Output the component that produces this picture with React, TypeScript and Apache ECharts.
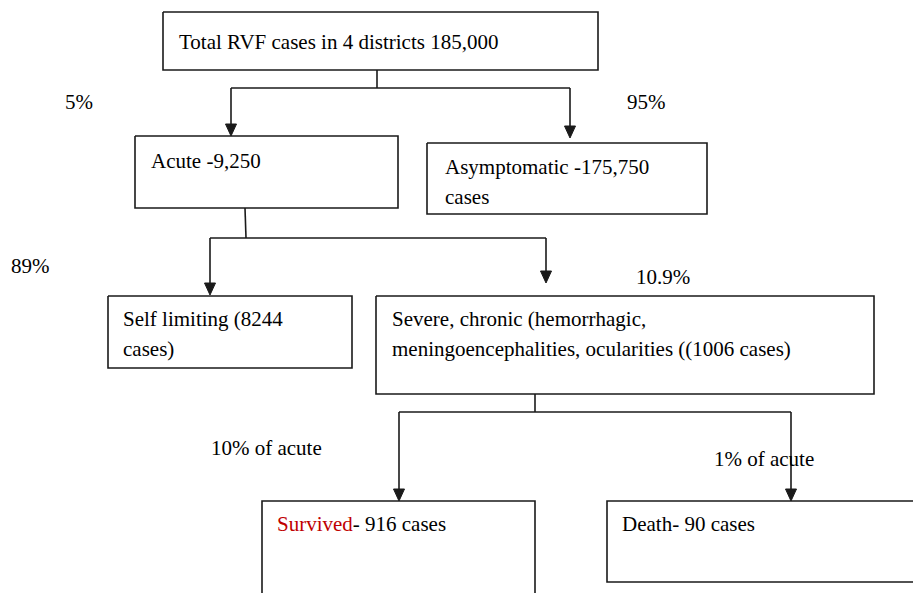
import React, { useEffect, useRef } from "react";
import * as echarts from "echarts";

// ---- content (data) ----
const nodeTitles: string[] = [
  "Total RVF cases in 4 districts 185,000",
  "Acute -9,250",
  "Asymptomatic -175,750\ncases",
  "Self limiting (8244\ncases)",
  "Severe, chronic (hemorrhagic,\nmeningoencephalities, ocularities ((1006 cases)",
  "{red|Survived}- 916 cases",
  "Death- 90 cases",
];
const splitLabels: string[] = ["5%", "95%", "89%", "10.9%", "10% of acute", "1% of acute"];

// ---- layout (positions, in page pixels mapped through hidden value axes) ----
// x0, y0, x1, y1 ; boxes cut by the page edge are left open on that side
const nodeBoxes: number[][] = [
  [163, 12, 598, 70],
  [135, 136, 398, 208],
  [427, 143, 707, 214],
  [108, 296, 352, 368],
  [376, 296, 874, 394],
  [262, 501, 535, 593],
  [607, 501, 913, 582],
];
const openSide: string[] = ["", "", "", "", "", "bottom", "right"];
// top-left of each node's text block
const nodeTextAt: number[][] = [
  [179, 27],
  [151, 146],
  [445, 152],
  [123, 304],
  [392, 304],
  [277, 509],
  [622, 509],
];
// stemTopX, stemTopY, stemBotX, barY, leftX, leftTipY, rightX, rightTipY
const forks: number[][] = [
  [377, 70, 377, 88, 231, 136, 570, 138],
  [245, 208, 246, 238, 210, 295, 546, 283],
  [535, 394, 535, 412, 399, 501, 791, 501],
];
// top-left of each split label
const splitLabelAt: number[][] = [
  [65, 87],
  [627, 87],
  [11, 251],
  [636, 262],
  [211, 433],
  [714, 444],
];

const FAMILY = "Liberation Serif, Times New Roman, serif";
const SIZE = 21;
const INK = "#1a1a1a";

export default function App() {
  const ref = useRef<HTMLDivElement>(null);
  useEffect(() => {
    document.body.style.margin = "0";
    document.body.style.overflow = "hidden";
    const chart = echarts.init(ref.current!, null, { renderer: "svg" });

    const arrowHead = (tip: number[]) => ({
      type: "polygon",
      shape: {
        points: [
          [tip[0] - 5.5, tip[1] - 12],
          [tip[0] + 5.5, tip[1] - 12],
          [tip[0], tip[1]],
        ],
      },
      style: { fill: INK, stroke: INK, lineWidth: 1 },
    });

    const textItems = [
      ...nodeTitles.map((t, i) => ({ name: t, value: nodeTextAt[i] })),
      ...splitLabels.map((t, i) => ({ name: t, value: splitLabelAt[i] })),
    ];

    chart.setOption({
      animation: false,
      textStyle: { fontFamily: FAMILY, fontSize: SIZE },
      grid: { left: 0, right: 0, top: 0, bottom: 0 },
      xAxis: { type: "value", min: 0, max: 913, show: false },
      yAxis: { type: "value", min: 0, max: 593, inverse: true, show: false },
      series: [
        {
          type: "custom",
          name: "boxes",
          clip: false,
          silent: true,
          data: nodeBoxes.map((b) => [...b]),
          renderItem: (params: any, api: any) => {
            const i = params.dataIndex;
            const p0 = api.coord([api.value(0), api.value(1)]);
            const p1 = api.coord([api.value(2), api.value(3)]);
            const tl = [p0[0], p0[1]];
            const tr = [p1[0], p0[1]];
            const br = [p1[0], p1[1]];
            const bl = [p0[0], p1[1]];
            let pts: number[][];
            if (openSide[i] === "right") pts = [tr, tl, bl, br];
            else if (openSide[i] === "bottom") pts = [bl, tl, tr, br];
            else pts = [tl, tr, br, bl, tl];
            return {
              type: "polyline",
              shape: { points: pts },
              style: { fill: "none", stroke: INK, lineWidth: 1.6 },
            };
          },
        },
        {
          type: "custom",
          name: "connectors",
          clip: false,
          silent: true,
          data: forks.map((f) => [...f]),
          renderItem: (params: any, api: any) => {
            const v = (k: number) => api.value(k);
            const a = api.coord([v(0), v(1)]);
            const b = api.coord([v(2), v(3)]);
            const l0 = api.coord([v(4), v(3)]);
            const lt = api.coord([v(4), v(5)]);
            const r0 = api.coord([v(6), v(3)]);
            const rt = api.coord([v(6), v(7)]);
            const ls = { stroke: INK, lineWidth: 1.6, fill: "none" };
            return {
              type: "group",
              children: [
                { type: "line", shape: { x1: a[0], y1: a[1], x2: b[0], y2: b[1] }, style: ls },
                { type: "line", shape: { x1: l0[0], y1: l0[1], x2: r0[0], y2: r0[1] }, style: ls },
                { type: "line", shape: { x1: l0[0], y1: l0[1], x2: lt[0], y2: lt[1] - 6 }, style: ls },
                { type: "line", shape: { x1: r0[0], y1: r0[1], x2: rt[0], y2: rt[1] - 6 }, style: ls },
                arrowHead(lt),
                arrowHead(rt),
              ],
            };
          },
        },
        {
          type: "scatter",
          name: "texts",
          silent: true,
          symbol: "rect",
          symbolSize: 0.01,
          itemStyle: { color: "rgba(0,0,0,0)", opacity: 1 },
          data: textItems,
          label: {
            show: true,
            position: [0, 0],
            align: "left",
            verticalAlign: "top",
            formatter: (p: any) => p.name,
            fontFamily: FAMILY,
            fontSize: SIZE,
            color: "#000",
            opacity: 1,
            lineHeight: 30,
            rich: {
              red: { color: "#c00000", fontFamily: FAMILY, fontSize: SIZE, lineHeight: 30 },
            },
          },
        },
      ],
    });
    return () => chart.dispose();
  }, []);
  return <div ref={ref} style={{ width: 913, height: 593, background: "#fff" }} />;
}
